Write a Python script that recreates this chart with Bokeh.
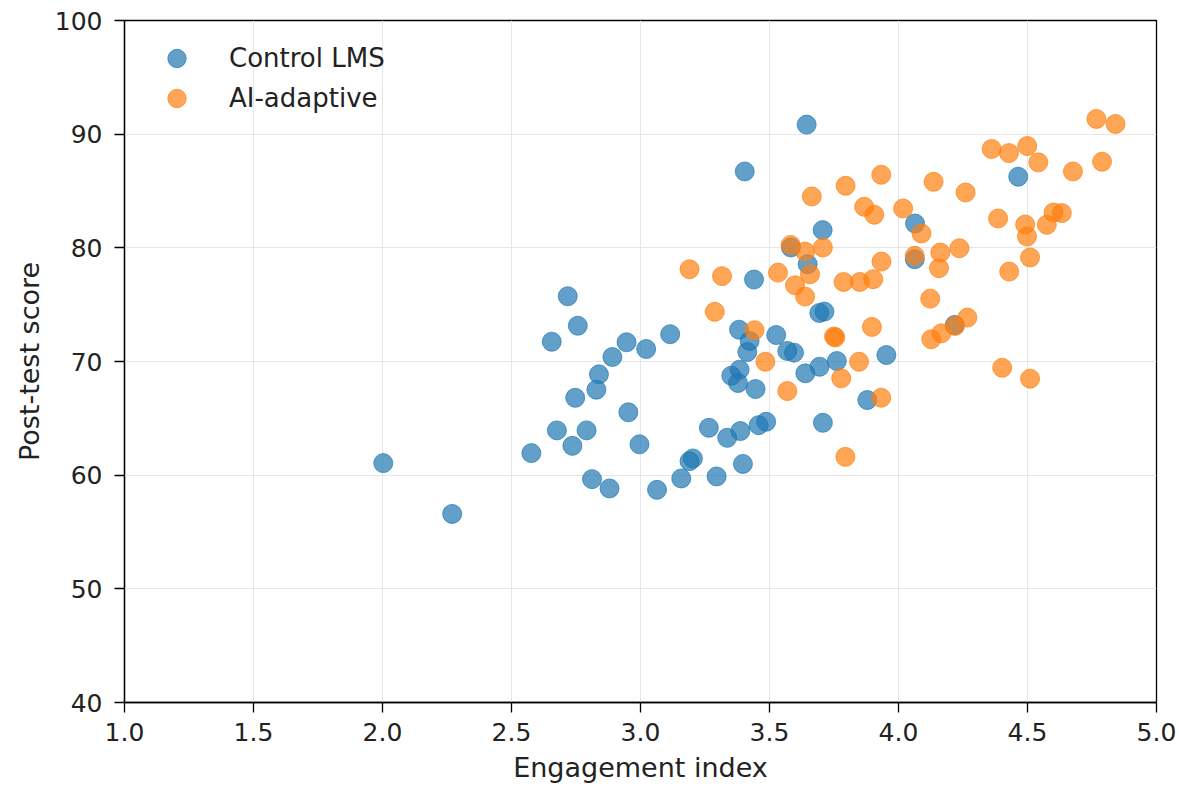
from bokeh.plotting import figure
from bokeh.models import Range1d, FixedTicker, PrintfTickFormatter, Legend, LegendItem
from bokeh.embed import file_html
from bokeh.resources import INLINE

control_x = [2.003, 2.270, 2.577, 2.656, 2.718, 2.757, 2.676, 2.736, 2.791, 2.747, 2.829, 2.839,
             2.891, 2.946, 3.022, 3.115, 2.953, 2.996, 2.812, 2.880, 3.064, 3.158, 3.190, 3.203,
             3.265, 3.295, 3.336, 3.387, 3.397, 3.352, 3.384, 3.378, 3.446, 3.458, 3.487, 3.382,
             3.414, 3.423, 3.440, 3.404, 3.644, 4.464, 3.706, 4.064, 3.583, 3.648, 3.693, 3.713,
             4.063, 3.526, 3.569, 3.595, 3.639, 3.694, 3.761, 3.953, 3.879, 3.707, 4.218]
control_y = [61.06, 56.59, 61.94, 71.74, 75.74, 73.15, 63.94, 62.58, 63.94, 66.81, 67.52, 68.87,
             70.40, 71.69, 71.10, 72.40, 65.53, 62.71, 59.65, 58.83, 58.71, 59.71, 61.23, 61.47,
             64.17, 59.89, 63.29, 63.88, 60.99, 68.75, 69.28, 68.11, 67.58, 64.40, 64.70, 72.80,
             70.84, 71.81, 77.21, 86.72, 90.84, 86.26, 81.56, 82.14, 80.03, 78.56, 74.27, 74.39,
             79.00, 72.33, 70.93, 70.78, 68.96, 69.54, 70.04, 70.57, 66.61, 64.61, 73.22]

ai_x = [3.190, 3.316, 3.288, 3.442, 3.484, 3.569, 3.750, 3.755, 3.897, 3.847, 3.778, 3.933,
        3.794, 4.123, 4.267, 4.219, 4.166, 4.127, 4.402, 4.510, 4.429, 4.510, 4.157, 4.162,
        4.236, 3.934, 3.902, 3.850, 3.787, 3.638, 3.599, 3.657, 3.533, 3.582, 3.638, 3.707,
        4.063, 4.089, 4.018, 3.867, 3.906, 3.664, 3.795, 3.933, 4.136, 4.260, 4.386, 4.491,
        4.498, 4.575, 4.601, 4.633, 4.361, 4.428, 4.499, 4.542, 4.676, 4.789, 4.767, 4.841]
ai_y = [78.12, 77.51, 74.37, 72.75, 69.98, 67.40, 72.20, 72.12, 73.04, 69.98, 68.52, 66.81,
        61.61, 75.53, 73.86, 73.13, 72.48, 71.96, 69.45, 68.49, 77.91, 79.15, 78.21, 79.59,
        79.97, 78.79, 77.24, 77.00, 77.00, 75.71, 76.71, 77.68, 77.82, 80.26, 79.67, 80.03,
        79.30, 81.26, 83.46, 83.61, 82.91, 84.52, 85.46, 86.43, 85.81, 84.87, 82.58, 82.05,
        81.00, 82.03, 83.11, 83.06, 88.70, 88.34, 88.96, 87.52, 86.72, 87.58, 91.34, 90.90]

x_ticks = [1.0, 1.5, 2.0, 2.5, 3.0, 3.5, 4.0, 4.5, 5.0]
y_ticks = [40, 50, 60, 70, 80, 90, 100]
series_names = ["Control LMS", "AI-adaptive"]
colors = ["#1f77b4", "#ff7f0e"]

FONT = "DejaVu Sans"

p = figure(width=1179, height=787, output_backend="svg", toolbar_location=None,
           x_range=Range1d(1.0, 5.0), y_range=Range1d(40, 100),
           frame_width=1032, frame_height=682,
           min_border_left=124, min_border_right=23, min_border_top=20, min_border_bottom=85)

r1 = p.scatter(control_x, control_y, size=19, fill_color=colors[0], line_color=colors[0],
               fill_alpha=0.7, line_alpha=0.7)
r2 = p.scatter(ai_x, ai_y, size=19, fill_color=colors[1], line_color=colors[1],
               fill_alpha=0.7, line_alpha=0.7)

p.xaxis.ticker = FixedTicker(ticks=x_ticks)
p.yaxis.ticker = FixedTicker(ticks=y_ticks)
p.xaxis.formatter = PrintfTickFormatter(format="%.1f")
p.yaxis.formatter = PrintfTickFormatter(format="%d")

for ax in (p.xaxis, p.yaxis):
    ax.major_label_text_font = FONT
    ax.major_label_text_font_size = "25px"
    ax.major_label_text_color = "#222222"
    ax.axis_label_text_font = FONT
    ax.axis_label_text_font_size = "27px"
    ax.axis_label_text_font_style = "normal"
    ax.axis_label_text_color = "#222222"
    ax.axis_line_color = "black"
    ax.axis_line_width = 1.3
    ax.major_tick_line_color = "black"
    ax.major_tick_line_width = 1.3
    ax.major_tick_out = 10
    ax.major_tick_in = 0
    ax.minor_tick_line_color = None

p.xaxis.axis_label = "Engagement index"
p.yaxis.axis_label = "Post-test score"
p.xaxis.major_label_standoff = 10
p.yaxis.major_label_standoff = 12
p.xaxis.axis_label_standoff = 8
p.yaxis.axis_label_standoff = 7

p.xgrid.grid_line_color = "#e6e6e6"
p.ygrid.grid_line_color = "#e6e6e6"
p.xgrid.grid_line_width = 1
p.ygrid.grid_line_width = 1

p.outline_line_color = "black"
p.outline_line_width = 1.3
p.outline_line_alpha = 1.0


def make_legend(name, renderer, loc):
    lg = Legend(items=[LegendItem(label=name, renderers=[renderer])], location=loc)
    lg.label_text_font = FONT
    lg.label_text_font_size = "26px"
    lg.label_text_color = "#222222"
    lg.border_line_alpha = 0
    lg.background_fill_alpha = 0
    lg.glyph_width = 75
    lg.glyph_height = 46
    lg.label_standoff = 15
    lg.spacing = 0
    lg.margin = 0
    lg.padding = 0
    return lg


p.add_layout(make_legend(series_names[0], r1, (15, 621)))
p.add_layout(make_legend(series_names[1], r2, (15, 581)))

open("out.html", "w").write(file_html(p, INLINE))
